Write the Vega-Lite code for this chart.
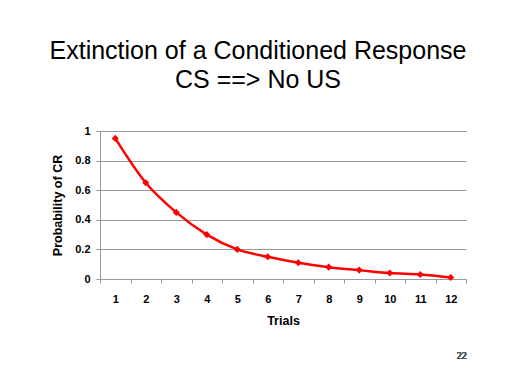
{
  "$schema": "https://vega.github.io/schema/vega-lite/v6.json",
  "width": 366,
  "height": 148,
  "autosize": {"type": "none"},
  "padding": {"left": 100, "top": 131, "right": 46, "bottom": 105},
  "background": "white",
  "title": {
    "text": ["Extinction of a Conditioned Response", "CS ==> No US"],
    "font": "Liberation Sans",
    "fontSize": 25,
    "fontWeight": "normal",
    "color": "black",
    "lineHeight": 29,
    "anchor": "middle",
    "frame": "group",
    "dx": -25,
    "offset": 32
  },
  "data": {
    "values": [
      {"trial": 1, "p": 0.95},
      {"trial": 2, "p": 0.65},
      {"trial": 3, "p": 0.45},
      {"trial": 4, "p": 0.30},
      {"trial": 5, "p": 0.20},
      {"trial": 6, "p": 0.15},
      {"trial": 7, "p": 0.11},
      {"trial": 8, "p": 0.08},
      {"trial": 9, "p": 0.06},
      {"trial": 10, "p": 0.04},
      {"trial": 11, "p": 0.03},
      {"trial": 12, "p": 0.01}
    ]
  },
  "config": {
    "view": {"stroke": null},
    "axis": {
      "labelFont": "Liberation Sans",
      "labelFontWeight": "bold",
      "labelFontSize": 11,
      "labelColor": "black",
      "titleFont": "Liberation Sans",
      "titleFontWeight": "bold",
      "titleFontSize": 12.5,
      "titleColor": "black",
      "domainColor": "#999999",
      "tickColor": "#999999",
      "gridColor": "#999999",
      "tickSize": 4,
      "labelOverlap": false,
      "labelFlush": false
    }
  },
  "layer": [
    {
      "mark": {"type": "line", "color": "#ff0000", "strokeWidth": 2.5, "interpolate": "monotone"},
      "encoding": {
        "x": {
          "field": "trial",
          "type": "ordinal",
          "scale": {"type": "band", "paddingInner": 0, "paddingOuter": 0},
          "axis": {"title": "Trials", "labelAngle": 0, "tickBand": "extent", "labelPadding": 10, "titlePadding": 10, "grid": false}
        },
        "y": {
          "field": "p",
          "type": "quantitative",
          "scale": {"domain": [0, 1], "nice": false},
          "axis": {"title": "Probability of CR", "values": [0, 0.2, 0.4, 0.6, 0.8, 1], "tickCount": 10, "format": ".1~f", "labelPadding": 6, "titlePadding": 10, "grid": true}
        }
      }
    },
    {
      "mark": {"type": "point", "shape": "diamond", "filled": true, "color": "#ff0000", "opacity": 1, "size": 50},
      "encoding": {
        "x": {"field": "trial", "type": "ordinal"},
        "y": {"field": "p", "type": "quantitative"}
      }
    },
    {
      "mark": {"type": "text", "font": "Liberation Serif", "fontSize": 10, "color": "#555555", "dx": 11, "clip": false},
      "encoding": {
        "x": {"datum": 12, "type": "ordinal"},
        "y": {"datum": -0.52, "type": "quantitative"},
        "text": {"value": "22"}
      }
    }
  ]
}
